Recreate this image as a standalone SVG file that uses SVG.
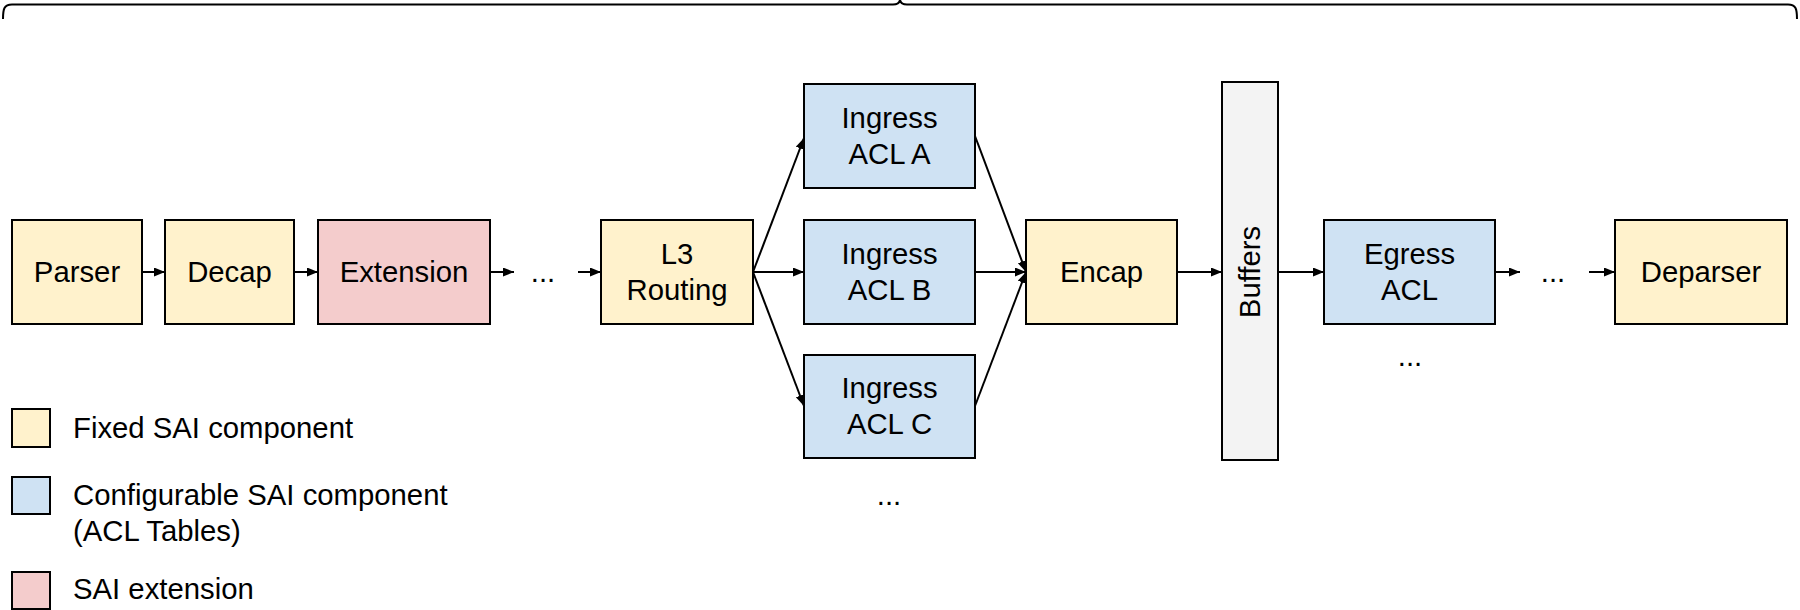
<svg xmlns="http://www.w3.org/2000/svg" width="1800" height="610" viewBox="0 0 1800 610">
<style>
  text { font-family: "Liberation Sans", Arial, sans-serif; font-size: 29.3px; fill: #000; }
  .c { text-anchor: middle; }
  .box { stroke: #000; stroke-width: 2; }
  .fixed { fill: #fff2cc; }
  .conf { fill: #cfe2f3; }
  .ext { fill: #f4cccc; }
  .buf { fill: #f3f3f3; }
  .edge { stroke: #000; stroke-width: 2; fill: none; marker-end: url(#arr); }
</style>
<defs>
  <marker id="arr" markerUnits="userSpaceOnUse" markerWidth="12" markerHeight="10" refX="11" refY="4.5" orient="auto">
    <path d="M0,0 L11,4.5 L0,9 Z" fill="#000"/>
  </marker>
</defs>
<rect width="1800" height="610" fill="#fff"/>

<g id="brace">
  <path d="M3,19 C3,9 4,4.5 12,4.5 L893,4.5 Q899,4.5 900,0 Q901,4.5 907,4.5 L1788,4.5 C1796,4.5 1797,9 1797,19" fill="none" stroke="#000" stroke-width="2"/>
</g>

<g id="connectors">
  <line class="edge" x1="142" y1="272" x2="165" y2="272"/>
  <line class="edge" x1="294" y1="272" x2="318" y2="272"/>
  <line class="edge" x1="490" y1="272" x2="514" y2="272"/>
  <line class="edge" x1="578" y1="272" x2="601" y2="272"/>
  <line class="edge" x1="753" y1="272" x2="804" y2="138"/>
  <line class="edge" x1="753" y1="272" x2="804" y2="272"/>
  <line class="edge" x1="753" y1="272" x2="804" y2="406"/>
  <line class="edge" x1="975" y1="136" x2="1026" y2="272"/>
  <line class="edge" x1="975" y1="272" x2="1026" y2="272"/>
  <line class="edge" x1="975" y1="406" x2="1026" y2="272"/>
  <line class="edge" x1="1177" y1="272" x2="1222" y2="272"/>
  <line class="edge" x1="1278" y1="272" x2="1324" y2="272"/>
  <line class="edge" x1="1495" y1="272" x2="1520" y2="272"/>
  <line class="edge" x1="1589" y1="272" x2="1615" y2="272"/>
</g>

<g id="parser">
  <rect class="box fixed" x="12" y="220" width="130" height="104"/>
  <text class="c" x="77" y="282">Parser</text>
</g>
<g id="decap">
  <rect class="box fixed" x="165" y="220" width="129" height="104"/>
  <text class="c" x="229.5" y="282">Decap</text>
</g>
<g id="extension">
  <rect class="box ext" x="318" y="220" width="172" height="104"/>
  <text class="c" x="404" y="282">Extension</text>
</g>
<g id="dots1">
  <text class="c" x="543" y="282">...</text>
</g>
<g id="l3routing">
  <rect class="box fixed" x="601" y="220" width="152" height="104"/>
  <text class="c" x="677" y="264">L3</text>
  <text class="c" x="677" y="300">Routing</text>
</g>
<g id="acl-a">
  <rect class="box conf" x="804" y="84" width="171" height="104"/>
  <text class="c" x="889.5" y="128">Ingress</text>
  <text class="c" x="889.5" y="164">ACL A</text>
</g>
<g id="acl-b">
  <rect class="box conf" x="804" y="220" width="171" height="104"/>
  <text class="c" x="889.5" y="264">Ingress</text>
  <text class="c" x="889.5" y="300">ACL B</text>
</g>
<g id="acl-c">
  <rect class="box conf" x="804" y="355" width="171" height="103"/>
  <text class="c" x="889.5" y="398">Ingress</text>
  <text class="c" x="889.5" y="434">ACL C</text>
</g>
<g id="dots2">
  <text class="c" x="889" y="505">...</text>
</g>
<g id="encap">
  <rect class="box fixed" x="1026" y="220" width="151" height="104"/>
  <text class="c" x="1101.5" y="282">Encap</text>
</g>
<g id="buffers">
  <rect class="box buf" x="1222" y="82" width="56" height="378"/>
  <text class="c" transform="translate(1260,272) rotate(-90)" x="0" y="0">Buffers</text>
</g>
<g id="egress-acl">
  <rect class="box conf" x="1324" y="220" width="171" height="104"/>
  <text class="c" x="1409.5" y="264">Egress</text>
  <text class="c" x="1409.5" y="300">ACL</text>
</g>
<g id="dots3">
  <text class="c" x="1410" y="366">...</text>
</g>
<g id="dots4">
  <text class="c" x="1553" y="282">...</text>
</g>
<g id="deparser">
  <rect class="box fixed" x="1615" y="220" width="172" height="104"/>
  <text class="c" x="1701" y="282">Deparser</text>
</g>

<g id="legend">
  <rect class="box fixed" x="12" y="409" width="38" height="38"/>
  <text x="73" y="438">Fixed SAI component</text>
  <rect class="box conf" x="12" y="477" width="38" height="37"/>
  <text x="73" y="505">Configurable SAI component</text>
  <text x="73" y="541">(ACL Tables)</text>
  <rect class="box ext" x="12" y="572" width="38" height="37"/>
  <text x="73" y="599">SAI extension</text>
</g>
</svg>
